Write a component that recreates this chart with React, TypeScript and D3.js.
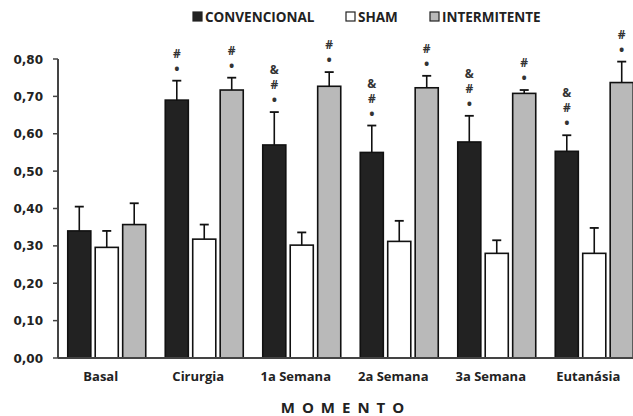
import React from 'react';
import * as d3 from 'd3';

const categories = ['Basal', 'Cirurgia', '1a Semana', '2a Semana', '3a Semana', 'Eutanásia'];
const seriesNames = ['CONVENCIONAL', 'SHAM', 'INTERMITENTE'];
const convencional = [0.34, 0.69, 0.57, 0.55, 0.578, 0.553];
const convencionalErr = [0.065, 0.052, 0.088, 0.072, 0.07, 0.043];
const sham = [0.296, 0.318, 0.302, 0.312, 0.28, 0.28];
const shamErr = [0.044, 0.039, 0.034, 0.055, 0.035, 0.068];
const intermitente = [0.357, 0.717, 0.727, 0.723, 0.708, 0.737];
const intermitenteErr = [0.057, 0.033, 0.038, 0.032, 0.009, 0.056];
// significance marks drawn above each bar, bottom to top
const convMarks = [[], ['•', '#'], ['•', '#', '&'], ['•', '#', '&'], ['•', '#', '&'], ['•', '#', '&']];
const shamMarks = [[], [], [], [], [], []];
const interMarks = [[], ['•', '#'], ['•', '#'], ['•', '#'], ['•', '#'], ['•', '#']];
const yTicks = [0, 0.1, 0.2, 0.3, 0.4, 0.5, 0.6, 0.7, 0.8];

const fills = ['#222222', '#ffffff', '#b9b9b9'];
const font = "'Open Sans', 'DejaVu Sans', sans-serif";

export default function App() {
  const width = 633;
  const height = 416;
  const left = 58;
  const x = d3.scaleBand().domain(categories).range([left, 643]).paddingInner(0.2).paddingOuter(0.1);
  const y = d3.scaleLinear().domain([0, 0.8]).range([358, 59]);
  const sub = d3.scaleBand().domain(seriesNames).range([0, x.bandwidth()]).paddingInner(0.16);
  const fmt = (v: number) => d3.format('.2f')(v).replace('.', ',');

  const series = [
    { name: seriesNames[0], vals: convencional, errs: convencionalErr, marks: convMarks, fill: fills[0] },
    { name: seriesNames[1], vals: sham, errs: shamErr, marks: shamMarks, fill: fills[1] },
    { name: seriesNames[2], vals: intermitente, errs: intermitenteErr, marks: interMarks, fill: fills[2] },
  ];

  const legendX = [193, 346, 430];

  return (
    <>
      <style>{'body{margin:0}'}</style>
      <svg width={width} height={height} style={{ display: 'block', background: '#fff' }} fontFamily={font}>
        {/* legend */}
        {series.map((s, i) => (
          <g key={s.name} transform={`translate(${legendX[i]},12)`}>
            <rect x={0} y={0} width={9} height={9} fill={s.fill} stroke="#222" strokeWidth={1.2} />
            <text x={12} y={10} fontSize={13.5} fontWeight={700} fill="#222">{s.name}</text>
          </g>
        ))}

        {/* y axis */}
        <line x1={left} x2={left} y1={y(0.8)} y2={y(0)} stroke="#444" strokeWidth={2} />
        {yTicks.map(t => (
          <g key={t}>
            <line x1={left - 5} x2={left} y1={y(t)} y2={y(t)} stroke="#444" strokeWidth={1.5} />
            <text x={43} y={y(t) + 4.5} textAnchor="end" fontSize={12} fontWeight={700} fontFamily="'DejaVu Sans', sans-serif" fill="#222">{fmt(t)}</text>
          </g>
        ))}

        {/* bars */}
        {categories.map((c, ci) => (
          <g key={c} transform={`translate(${x(c)},0)`}>
            {series.map(s => {
              const bx = sub(s.name)!;
              const bw = sub.bandwidth();
              const cx = bx + bw / 2;
              const top = y(s.vals[ci]);
              const eTop = y(s.vals[ci] + s.errs[ci]);
              return (
                <g key={s.name}>
                  <rect x={bx} y={top} width={bw} height={y(0) - top} fill={s.fill} stroke="#111" strokeWidth={1.6} />
                  <line x1={cx} x2={cx} y1={top} y2={eTop} stroke="#111" strokeWidth={1.6} />
                  <line x1={cx - 4.5} x2={cx + 4.5} y1={eTop} y2={eTop} stroke="#111" strokeWidth={1.8} />
                  {s.marks[ci].map((m, mi) => (
                    <text key={mi} x={cx} y={eTop - (m === '•' ? 7 : 8) - mi * 15} textAnchor="middle" fontSize={m === '•' ? 14 : 12} fontWeight={700} fill="#333">{m}</text>
                  ))}
                </g>
              );
            })}
          </g>
        ))}

        {/* x axis */}
        <line x1={left} x2={width} y1={y(0)} y2={y(0)} stroke="#444" strokeWidth={2} />
        {categories.map(c => (
          <text key={c} x={x(c)! + x.bandwidth() / 2 - 6} y={381} textAnchor="middle" fontSize={13} fontWeight={700} fill="#222">{c}</text>
        ))}
        <text x={346} y={413} textAnchor="middle" fontSize={15} fontWeight={700} letterSpacing={7} fill="#222">MOMENTO</text>
      </svg>
    </>
  );
}
